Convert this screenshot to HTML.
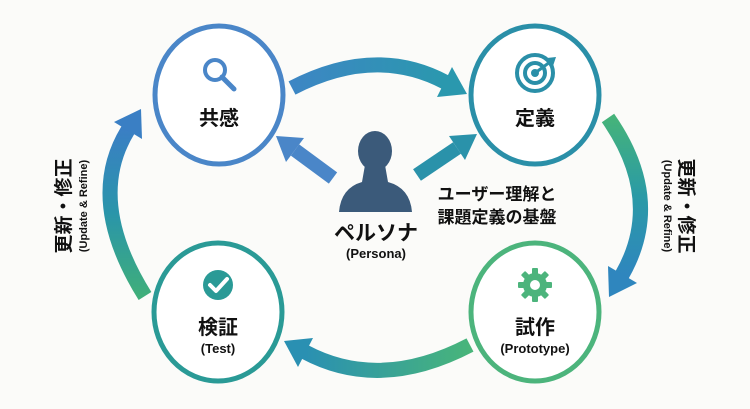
<!DOCTYPE html>
<html><head><meta charset="utf-8"><style>
html,body{margin:0;padding:0;background:#fbfbf9;}
svg{display:block;}
text{font-family:"Liberation Sans","Noto Sans CJK JP",sans-serif;fill:#111;}
</style></head><body>
<svg width="750" height="409" viewBox="0 0 750 409" xmlns="http://www.w3.org/2000/svg">
<defs>
<linearGradient id="gTop" x1="0" y1="0" x2="1" y2="0"><stop offset="0" stop-color="#3d86c4"/><stop offset="1" stop-color="#2a98ae"/></linearGradient>
<linearGradient id="gLeft" x1="0" y1="1" x2="0" y2="0"><stop offset="0" stop-color="#3fae7a"/><stop offset="0.5" stop-color="#2a95aa"/><stop offset="1" stop-color="#3a7fc4"/></linearGradient>
<linearGradient id="gRight" x1="0" y1="0" x2="0" y2="1"><stop offset="0" stop-color="#45b37a"/><stop offset="0.5" stop-color="#2a9aa6"/><stop offset="1" stop-color="#2f86be"/></linearGradient>
<linearGradient id="gBot" x1="1" y1="0" x2="0" y2="0"><stop offset="0" stop-color="#48b57a"/><stop offset="1" stop-color="#2a90b2"/></linearGradient>
</defs>

<path d="M292,88 Q375,45 445,82" fill="none" stroke="url(#gTop)" stroke-width="15"/>
<polygon points="467,94 437,97 452,67" fill="#2a98ae"/>
<path d="M145,296 Q85,200 128,130" fill="none" stroke="url(#gLeft)" stroke-width="15"/>
<polygon points="141,109 142,139 114,122" fill="#3a7fc4"/>
<path d="M608,118 Q665,200 622,275" fill="none" stroke="url(#gRight)" stroke-width="15"/>
<polygon points="609,297 637,283 608,266" fill="#2f86be"/>
<path d="M470,345 Q380,392 305,352" fill="none" stroke="url(#gBot)" stroke-width="15"/>
<polygon points="284,341 298,367 313,338" fill="#2a90b2"/>

<line x1="333" y1="178" x2="295" y2="150" stroke="#4a86c8" stroke-width="14"/>
<polygon points="276,136 304,138 286,162" fill="#4a86c8"/>
<line x1="417" y1="175" x2="457" y2="148" stroke="#2a92aa" stroke-width="14"/>
<polygon points="477,134 465,160 449,136" fill="#2a92aa"/>

<ellipse cx="219" cy="95" rx="64" ry="69" fill="#fff" stroke="#4a86c8" stroke-width="5"/>
<ellipse cx="535" cy="95" rx="64" ry="69" fill="#fff" stroke="#2a8fa8" stroke-width="5"/>
<ellipse cx="218" cy="312" rx="64" ry="69" fill="#fff" stroke="#2a9a96" stroke-width="5"/>
<ellipse cx="535" cy="312" rx="64" ry="69" fill="#fff" stroke="#4cb47c" stroke-width="5"/>

<circle cx="215" cy="70" r="10" fill="none" stroke="#4a86c8" stroke-width="4"/>
<line x1="222" y1="77" x2="234" y2="89" stroke="#4a86c8" stroke-width="5" stroke-linecap="round"/>

<circle cx="535" cy="73" r="18" fill="none" stroke="#2a8fa8" stroke-width="4"/>
<circle cx="535" cy="73" r="10" fill="none" stroke="#2a8fa8" stroke-width="4"/>
<circle cx="535" cy="73" r="4" fill="#2a8fa8"/>
<line x1="535" y1="73" x2="550" y2="62" stroke="#2a8fa8" stroke-width="3"/>
<polygon points="547,58 556,57 553,66 550,62" fill="#2a8fa8"/>

<circle cx="218" cy="285" r="15" fill="#2a9a96"/>
<polyline points="210,285 216,291 227,279" fill="none" stroke="#fff" stroke-width="4" stroke-linecap="round" stroke-linejoin="round"/>

<g transform="translate(535,285)" fill="#4cb47c">
<circle r="12"/>
<rect x="-3" y="-17" width="6" height="34" rx="1"/>
<rect x="-3" y="-17" width="6" height="34" rx="1" transform="rotate(45)"/>
<rect x="-3" y="-17" width="6" height="34" rx="1" transform="rotate(90)"/>
<rect x="-3" y="-17" width="6" height="34" rx="1" transform="rotate(135)"/>
<circle r="5" fill="#fff"/>
</g>

<g fill="#3b5a7a">
<ellipse cx="375" cy="151" rx="17" ry="20"/>
<path d="M365,165 L385,165 L388,182 Q410,188 412,212 L339,212 Q341,188 362,182 Z"/>
</g>

<text x="219" y="125" font-size="20" font-weight="bold" text-anchor="middle">共感</text>
<text x="535" y="125" font-size="20" font-weight="bold" text-anchor="middle">定義</text>
<text x="218" y="334" font-size="20" font-weight="bold" text-anchor="middle">検証</text>
<text x="218" y="353" font-size="13" font-weight="bold" text-anchor="middle">(Test)</text>
<text x="535" y="334" font-size="20" font-weight="bold" text-anchor="middle">試作</text>
<text x="535" y="353" font-size="13" font-weight="bold" text-anchor="middle">(Prototype)</text>
<text x="376" y="240" font-size="21" font-weight="bold" text-anchor="middle">ペルソナ</text>
<text x="376" y="258" font-size="13" font-weight="bold" text-anchor="middle">(Persona)</text>
<text x="497" y="200" font-size="17" font-weight="bold" text-anchor="middle">ユーザー理解と</text>
<text x="497" y="223" font-size="17" font-weight="bold" text-anchor="middle">課題定義の基盤</text>

<text transform="translate(70,206) rotate(-90)" font-size="19" font-weight="bold" text-anchor="middle">更新・修正</text>
<text transform="translate(87,206) rotate(-90)" font-size="11" font-weight="bold" text-anchor="middle">(Update &amp; Refine)</text>
<text transform="translate(680,206) rotate(90)" font-size="19" font-weight="bold" text-anchor="middle">更新・修正</text>
<text transform="translate(664,206) rotate(90)" font-size="11" font-weight="bold" text-anchor="middle">(Update &amp; Refine)</text>
</svg>
</body></html>
